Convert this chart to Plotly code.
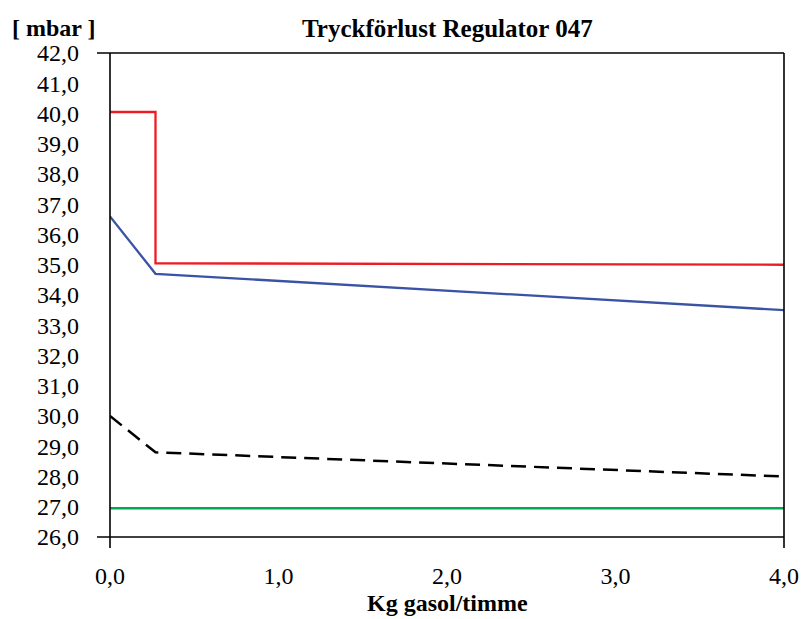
import plotly.graph_objects as go

# data
red_x = [0.0, 0.27, 0.27, 4.0]
red_y = [40.05, 40.05, 35.05, 35.0]

blue_x = [0.0, 0.27, 4.0]
blue_y = [36.6, 34.7, 33.5]

black_x = [0.0, 0.27, 4.0]
black_y = [30.0, 28.8, 28.0]

green_x = [0.0, 4.0]
green_y = [26.95, 26.95]

y_ticks = list(range(26, 43))
x_ticks = [0, 1, 2, 3, 4]

FONT = "Liberation Serif"

fig = go.Figure()
fig.add_trace(go.Scatter(x=red_x, y=red_y, mode="lines",
                         line=dict(color="#ED1C24", width=2.3)))
fig.add_trace(go.Scatter(x=blue_x, y=blue_y, mode="lines",
                         line=dict(color="#3A53A4", width=2.3)))
fig.add_trace(go.Scatter(x=black_x, y=black_y, mode="lines",
                         line=dict(color="black", width=2.5, dash="15px,8px")))
fig.add_trace(go.Scatter(x=green_x, y=green_y, mode="lines",
                         line=dict(color="#00A651", width=2.7)))

# frame lines that stick out past the corners, like the original
ex = 13 / 674
ey = 11 / 484
frame = [
    (-ex, 1, 1, 1),
    (-ex, 0, 1, 0),
    (0, 1, 0, -ey),
    (1, 1, 1, -ey),
]
for x0, y0, x1, y1 in frame:
    fig.add_shape(type="line", xref="paper", yref="paper",
                  x0=x0, y0=y0, x1=x1, y1=y1,
                  line=dict(color="black", width=1.6))

fig.add_annotation(text="<b>Tryckförlust Regulator 047</b>", xref="paper", yref="paper",
                   x=0.5, y=(536.7 - 28) / 484, xanchor="center", yanchor="middle",
                   showarrow=False, font=dict(family=FONT, size=25, color="black"))
fig.add_annotation(text="<b>[ mbar ]</b>", xref="paper", yref="paper",
                   x=(98 - 110) / 674, y=(536.7 - 28) / 484, xanchor="right", yanchor="middle",
                   showarrow=False, font=dict(family=FONT, size=24, color="black"))
fig.add_annotation(text="<b>Kg gasol/timme</b>", xref="paper", yref="paper",
                   x=0.5, y=(536.7 - 603) / 484, xanchor="center", yanchor="middle",
                   showarrow=False, font=dict(family=FONT, size=24, color="black"))

fig.update_layout(
    width=804, height=619,
    margin=dict(l=110, r=20, t=53, b=82),
    plot_bgcolor="white", paper_bgcolor="white",
    showlegend=False,
    separators=", ",
    font=dict(family=FONT, size=24, color="black"),
)
fig.update_xaxes(range=[0, 4], tickvals=x_ticks, tickformat=".1f",
                 showgrid=False, zeroline=False, showline=False, ticks="",
                 ticklabelstandoff=22, automargin=False)
fig.update_yaxes(range=[26, 42], tickvals=y_ticks, tickformat=".1f",
                 showgrid=False, zeroline=False, showline=False, ticks="",
                 ticklabelstandoff=30, automargin=False)

fig.write_html("out.html",
               config={"displayModeBar": False},
               post_script="document.body.style.margin='0px';"
                           "document.body.style.overflow='hidden';")
